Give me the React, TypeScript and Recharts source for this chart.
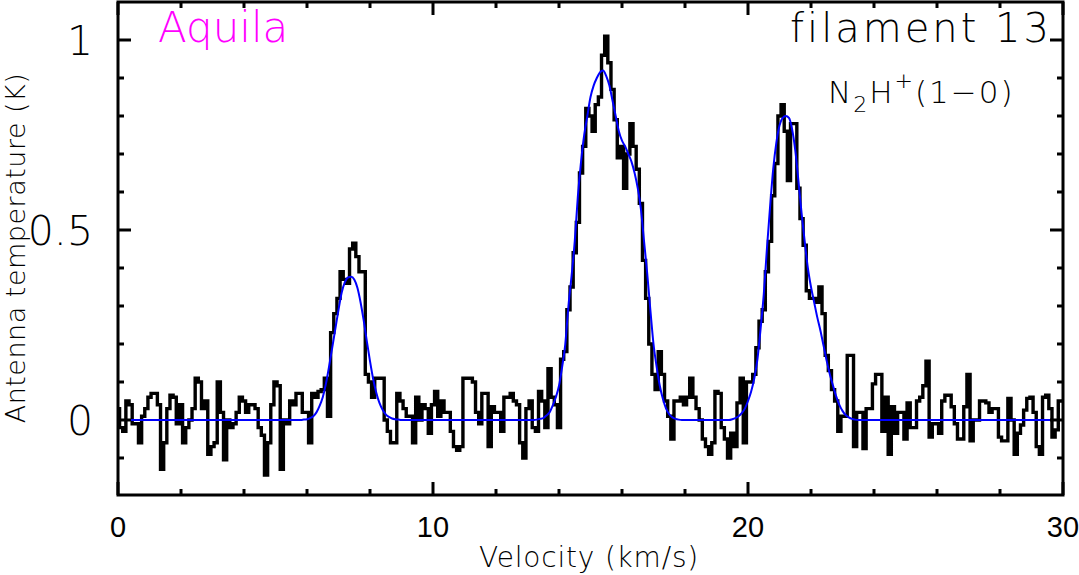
import React from 'react';
import { LineChart, Line, XAxis, YAxis, ReferenceArea } from 'recharts';

// Spectrum: channel start / width (km/s), antenna temperature per channel (K)
const CHANNEL_START = 0;
const CHANNEL_WIDTH = 0.1;
const antennaTemp = [
  0.03, -0.02, -0.03, 0.05, 0.04, -0.01, -0.01, -0.06, 0.01, 0.03,
  0.06, 0.07, 0.07, 0.04, -0.13, -0.06, 0.03, 0.065, 0.06, -0.01,
  0.04, -0.06, -0.02, 0.0, 0.03, 0.11, 0.10, 0.03, 0.05, -0.09,
  -0.07, -0.06, 0.10, 0.02, -0.105, 0.0, -0.02, -0.01, 0.02, 0.06,
  0.05, 0.02, 0.04, 0.04, 0.03, -0.02, -0.04, -0.145, -0.06, 0.04,
  0.10, 0.09, -0.13, 0.0, -0.01, 0.05, 0.04, 0.07, 0.07, 0.02,
  0.02, -0.06, 0.07, 0.06, 0.075, 0.08, 0.11, 0.01, 0.23, 0.28,
  0.32, 0.39, 0.37, 0.36, 0.45, 0.465, 0.43, 0.39, 0.39, 0.12,
  0.10, 0.06, 0.11, 0.11, 0.11, 0.0, -0.03, -0.06, -0.06, 0.07,
  0.05, 0.03, 0.01, 0.01, -0.06, 0.06, 0.0, 0.04, 0.03, -0.035,
  0.04, 0.075, 0.01, 0.05, 0.02, 0.02, -0.03, -0.07, -0.08, -0.07,
  0.11, 0.11, 0.11, 0.10, 0.02, -0.01, 0.07, 0.07, -0.07, 0.035,
  0.02, 0.02, -0.03, 0.06, 0.06, 0.07, 0.05, 0.04, -0.06, -0.1,
  0.03, 0.05, -0.02, -0.03, 0.075, 0.05, -0.02, 0.135, 0.06, 0.04,
  -0.02, 0.16, 0.18, 0.29, 0.35, 0.44, 0.52, 0.65, 0.72, 0.82,
  0.80, 0.76, 0.83, 0.85, 0.96, 1.01, 0.94, 0.87, 0.79, 0.69,
  0.72, 0.61, 0.70, 0.78, 0.72, 0.66, 0.57, 0.42, 0.32, 0.20,
  0.12, 0.08, 0.18, 0.12, 0.05, 0.01, -0.05, 0.05, 0.05, 0.06,
  0.04, 0.06, 0.11, 0.06, 0.03, 0.0, -0.05, -0.07, -0.09, -0.06,
  0.075, 0.07, -0.02, -0.05, -0.1, -0.035, -0.07, 0.045, 0.11, -0.06,
  0.10, 0.10, 0.12, 0.19, 0.26, 0.29, 0.39, 0.47, 0.59, 0.675,
  0.80, 0.83, 0.76, 0.63, 0.78, 0.78, 0.61, 0.53, 0.46, 0.34,
  0.32, 0.32, 0.31, 0.35, 0.28, 0.17, 0.13, 0.08, 0.05, -0.03,
  0.01, 0.01, 0.17, 0.17, -0.07, 0.02, 0.02, -0.075, 0.03, 0.03,
  0.095, 0.12, 0.12, -0.03, 0.06, -0.09, 0.035, -0.035, 0.02, 0.02,
  -0.05, 0.045, -0.02, -0.02, 0.05, 0.06, 0.09, 0.155, -0.045, -0.01,
  -0.01, -0.035, 0.05, 0.065, 0.065, 0.035, -0.01, -0.05, -0.05, 0.035,
  0.12, -0.055, 0.0, 0.0, 0.05, 0.05, 0.045, 0.02, 0.03, 0.03,
  -0.045, -0.055, -0.055, 0.057, 0.0, -0.09, -0.035, -0.013, 0.026, 0.057,
  0.06, 0.02, -0.07, -0.09, 0.06, 0.065, 0.03, -0.045, -0.026, 0.05,
  0.05,
];

// Hyperfine fit (blue curve), sampled
const fitVelocity = [
  0, 5.8, 5.9, 6.0, 6.1, 6.2, 6.3, 6.4, 6.5, 6.6, 6.7, 6.8, 6.9, 7.0, 7.1, 7.2, 7.3, 7.4, 7.5, 7.6, 7.7, 7.8, 7.9,
  8.0, 8.1, 8.2, 8.3, 8.4, 8.5, 8.6, 8.7, 8.8, 8.9, 9.0,
  13.2, 13.3, 13.4, 13.5, 13.6, 13.7, 13.8, 13.9, 14.0, 14.1, 14.2, 14.3, 14.4, 14.5, 14.6, 14.7, 14.8, 14.9,
  15.0, 15.1, 15.2, 15.3, 15.4, 15.5, 15.6, 15.7, 15.8, 15.9, 16.0, 16.1, 16.2, 16.3, 16.4, 16.5, 16.6, 16.7, 16.8, 16.9,
  17.0, 17.1, 17.2, 17.3, 17.4, 17.5, 17.6, 17.7, 17.8, 17.9,
  19.4, 19.5, 19.6, 19.7, 19.8, 19.9, 20.0, 20.1, 20.2, 20.3, 20.4, 20.5, 20.6, 20.7, 20.8, 20.9,
  21.0, 21.1, 21.2, 21.3, 21.4, 21.5, 21.6, 21.7, 21.8, 21.9, 22.0, 22.1, 22.2, 22.3, 22.4, 22.5, 22.6, 22.7, 22.8, 22.9,
  23.0, 23.1, 23.2, 23.3, 23.4, 23.5, 30,
];
const fitTemp = [
  0, 0, 0.001, 0.002, 0.005, 0.01, 0.02, 0.037, 0.06, 0.095, 0.14, 0.19, 0.24, 0.29, 0.335, 0.362, 0.375, 0.377, 0.37, 0.348, 0.31, 0.262, 0.207,
  0.155, 0.108, 0.072, 0.045, 0.027, 0.015, 0.008, 0.004, 0.002, 0.001, 0,
  0, 0.001, 0.003, 0.005, 0.012, 0.02, 0.038, 0.06, 0.09, 0.14, 0.2, 0.3, 0.38, 0.47, 0.59, 0.68, 0.75, 0.8,
  0.85, 0.88, 0.9, 0.915, 0.92, 0.905, 0.88, 0.84, 0.8, 0.76, 0.735, 0.72, 0.7, 0.68, 0.65, 0.61, 0.555, 0.47, 0.386, 0.29,
  0.2, 0.14, 0.09, 0.055, 0.03, 0.015, 0.007, 0.003, 0.001, 0,
  0, 0.002, 0.005, 0.01, 0.018, 0.03, 0.05, 0.075, 0.11, 0.16, 0.24, 0.33, 0.45, 0.56, 0.66, 0.73,
  0.775, 0.795, 0.8, 0.795, 0.765, 0.71, 0.63, 0.545, 0.47, 0.4, 0.35, 0.31, 0.27, 0.235, 0.195, 0.155, 0.12, 0.09, 0.062, 0.04,
  0.024, 0.013, 0.007, 0.003, 0.001, 0, 0,
];

const xTicks = [0, 2, 4, 6, 8, 10, 12, 14, 16, 18, 20, 22, 24, 26, 28, 30];
const xMajorTicks = [0, 10, 20, 30];
const yTicks = [-0.1, 0, 0.1, 0.2, 0.3, 0.4, 0.5, 0.6, 0.7, 0.8, 0.9, 1.0];
const yMajorTicks = [0, 0.5, 1];
const yTickLabels = ['0', '0.5', '1'];
const X_DOMAIN: [number, number] = [0, 30];
const Y_DOMAIN: [number, number] = [-0.1974, 1.1];

const spectrum = antennaTemp.map((t, i) => ({ v: +(CHANNEL_START + i * CHANNEL_WIDTH).toFixed(2), t }));
const fit = fitVelocity.map((v, i) => ({ v, f: fitTemp[i] }));

const W = 1079;
const H = 575;
const Y_AXIS_W = 60;
const X_AXIS_H = 40;
const M = { top: 2, right: 16, bottom: 80 - X_AXIS_H, left: 118 - Y_AXIS_W };
const PLOT_TOP = 2;
const PLOT_BOTTOM = 495;
const PLOT_LEFT = 118;
const PLOT_RIGHT = W - 16;
const FONT = '"DejaVu Sans", Verdana, sans-serif';
const TICK_FONT = '"Liberation Sans", Arial, sans-serif';
const MAJOR = 13;
const MINOR = 6;

const XTick = (props: any) => {
  const { x, payload } = props;
  const v = payload.value;
  const major = xMajorTicks.includes(v);
  const len = major ? MAJOR : MINOR;
  return (
    <g>
      <line x1={x} x2={x} y1={PLOT_BOTTOM} y2={PLOT_BOTTOM - len} stroke="#000" strokeWidth={3} />
      <line x1={x} x2={x} y1={PLOT_TOP} y2={PLOT_TOP + len} stroke="#000" strokeWidth={3} />
      {major && (
        <text x={x} y={537} textAnchor="middle" fontSize={29} fontFamily={TICK_FONT} fill="#000">
          {String(v)}
        </text>
      )}
    </g>
  );
};

const YTick = (props: any) => {
  const { y, payload } = props;
  const v = payload.value;
  const mi = yMajorTicks.findIndex((m) => Math.abs(m - v) < 1e-6);
  const major = mi >= 0;
  const len = major ? MAJOR : MINOR;
  return (
    <g>
      <line x1={PLOT_LEFT} x2={PLOT_LEFT + len} y1={y} y2={y} stroke="#000" strokeWidth={3} />
      <line x1={PLOT_RIGHT} x2={PLOT_RIGHT - len} y1={y} y2={y} stroke="#000" strokeWidth={3} />
      {major && (
        <text x={93} y={y + 15} textAnchor="end" fontSize={41} fontFamily={FONT} fontWeight={200} fill="#000">
          {yTickLabels[mi]}
        </text>
      )}
    </g>
  );
};

export default function App() {
  return (
    <div style={{ position: 'absolute', left: 0, top: 0, width: W, height: H, background: '#fff' }}>
      <LineChart width={W} height={H} margin={M} data={spectrum}>
        <XAxis
          type="number"
          dataKey="v"
          domain={X_DOMAIN}
          ticks={xTicks}
          interval={0}
          tick={XTick}
          tickLine={false}
          axisLine={false}
          height={X_AXIS_H}
          allowDataOverflow
        />
        <YAxis
          type="number"
          domain={Y_DOMAIN}
          ticks={yTicks}
          interval={0}
          tick={YTick}
          tickLine={false}
          axisLine={false}
          width={Y_AXIS_W}
          allowDataOverflow
        />
        <ReferenceArea
          x1={X_DOMAIN[0]}
          x2={X_DOMAIN[1]}
          y1={Y_DOMAIN[0]}
          y2={Y_DOMAIN[1]}
          fill="none"
          fillOpacity={0}
          stroke="#000"
          strokeWidth={3}
          strokeOpacity={1}
          ifOverflow="visible"
        />
        <Line
          type="step"
          dataKey="t"
          stroke="#000"
          strokeWidth={3.4}
          dot={false}
          activeDot={false}
          isAnimationActive={false}
        />
        <Line
          type="monotone"
          data={fit}
          dataKey="f"
          stroke="#0000ff"
          strokeWidth={2}
          dot={false}
          activeDot={false}
          isAnimationActive={false}
        />
      </LineChart>
      <svg
        width={W}
        height={H}
        style={{ position: 'absolute', left: 0, top: 0, pointerEvents: 'none' }}
      >
        <text x={158} y={42} fontSize={42} fontFamily={FONT} fontWeight={200} fill="#ff00ff">
          Aquila
        </text>
        <text x={1052} y={42} textAnchor="end" fontSize={40} letterSpacing={3} fontFamily={FONT} fontWeight={200} fill="#000">
          filament 13
        </text>
        <text x={828} y={103} fontSize={31} letterSpacing={2} fontFamily={FONT} fontWeight={200} fill="#000">
          N
          <tspan dy={9} fontSize={22}>2</tspan>
          <tspan dy={-9}>H</tspan>
          <tspan dy={-15} fontSize={22}>+</tspan>
          <tspan dy={15}>(1−0)</tspan>
        </text>
        <text x={589} y={567} textAnchor="middle" fontSize={28} letterSpacing={0.8} fontFamily={FONT} fontWeight={200} fill="#000">
          Velocity (km/s)
        </text>
        <text
          transform="translate(25,248) rotate(-90)"
          textAnchor="middle"
          fontSize={27}
          letterSpacing={0.5}
          fontFamily={FONT}
          fontWeight={200}
          fill="#000"
        >
          Antenna temperature (K)
        </text>
      </svg>
    </div>
  );
}
